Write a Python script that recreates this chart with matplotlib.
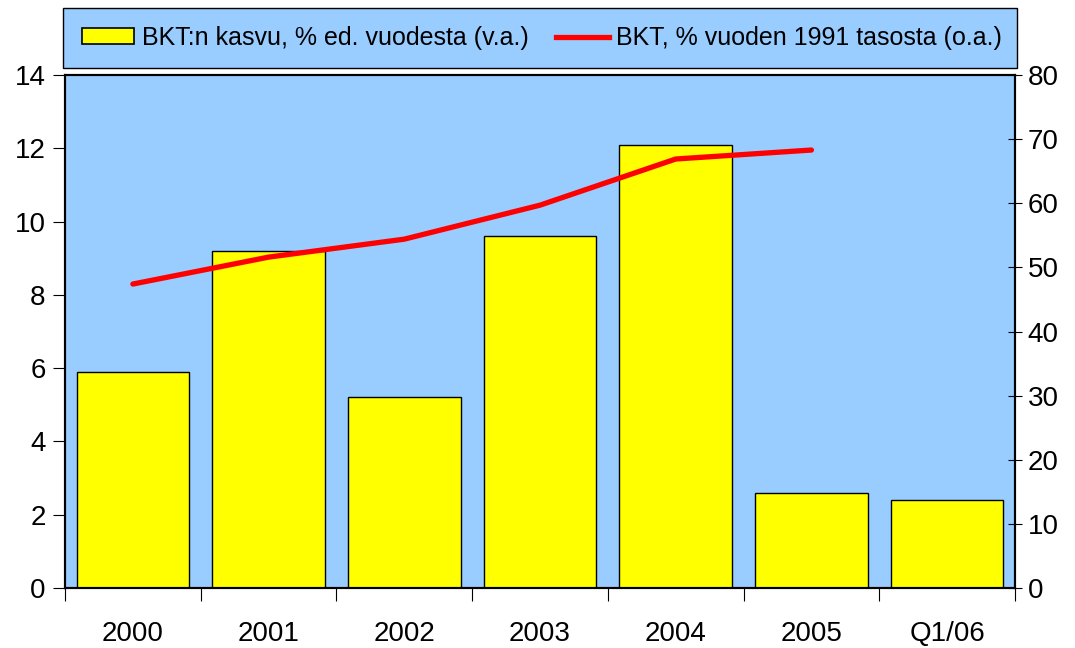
import matplotlib
matplotlib.use("Agg")
import matplotlib.pyplot as plt
from matplotlib.patches import Patch, Rectangle
from matplotlib.lines import Line2D
import numpy as np

categories = ["2000", "2001", "2002", "2003", "2004", "2005", "Q1/06"]
growth = [5.9, 9.2, 5.2, 9.6, 12.1, 2.6, 2.4]
level_years = ["2000", "2001", "2002", "2003", "2004", "2005"]
level = [47.4, 51.6, 54.4, 59.7, 66.9, 68.3]

plt.rcParams['font.family'] = ['Liberation Sans', 'DejaVu Sans']

W, H = 1075, 648
fig = plt.figure(figsize=(W/100, H/100), dpi=100)
ax = fig.add_axes([65/W, 60/H, 950/W, 513/H])
bg = "#99CCFF"
ax.set_facecolor(bg)

x = np.arange(len(categories))
ax.bar(x, growth, width=0.83, color="#FFFF00", edgecolor="black", linewidth=1.0, zorder=2)
ax.set_xlim(-0.5, len(categories) - 0.5)
ax.set_ylim(0, 14)
ax.set_yticks(np.arange(0, 15, 2))
ax.set_xticks(x)
ax.set_xticklabels(categories)
ax.set_xticks(np.arange(-0.5, len(categories)), minor=True)
ax.tick_params(axis='x', which='major', length=0, pad=24, labelsize=20)
ax.tick_params(axis='x', which='minor', length=9, width=0.8, direction='out')
ax.tick_params(axis='y', length=9, width=0.8, direction='out', labelsize=20, pad=5)
for s in ax.spines.values():
    s.set_linewidth(1.5)

ax2 = ax.twinx()
xl = [categories.index(c) for c in level_years]
ax2.plot(xl, level, color="#FF0000", linewidth=3.8, solid_capstyle='round', zorder=3)
ax2.set_ylim(0, 80)
ax2.set_yticks(np.arange(0, 81, 10))
ax2.tick_params(axis='y', length=10, width=0.8, direction='inout', labelsize=20, pad=4)
for s in ax2.spines.values():
    s.set_linewidth(1.5)

# legend box
fig.patches.append(Rectangle((63/W, 1 - 68/H), 954/W, 60/H, transform=fig.transFigure,
                             facecolor=bg, edgecolor="black", linewidth=1.0, zorder=0))

handles = [Patch(facecolor="#FFFF00", edgecolor="black", linewidth=1.2),
           Line2D([0], [0], color="#FF0000", linewidth=3.8)]
labels = ["BKT:n kasvu, % ed. vuodesta (v.a.)", "BKT, % vuoden 1991 tasosta (o.a.)"]
leg = fig.legend(handles, labels, loc='center', ncol=2,
                 bbox_to_anchor=(542/W, 1 - 38/H),
                 fontsize=18, frameon=False,
                 handlelength=2.1, handleheight=0.6, handletextpad=0.3, columnspacing=1.1,
                 borderaxespad=0, borderpad=0)

fig.savefig("out.png", dpi=100, facecolor="white")
